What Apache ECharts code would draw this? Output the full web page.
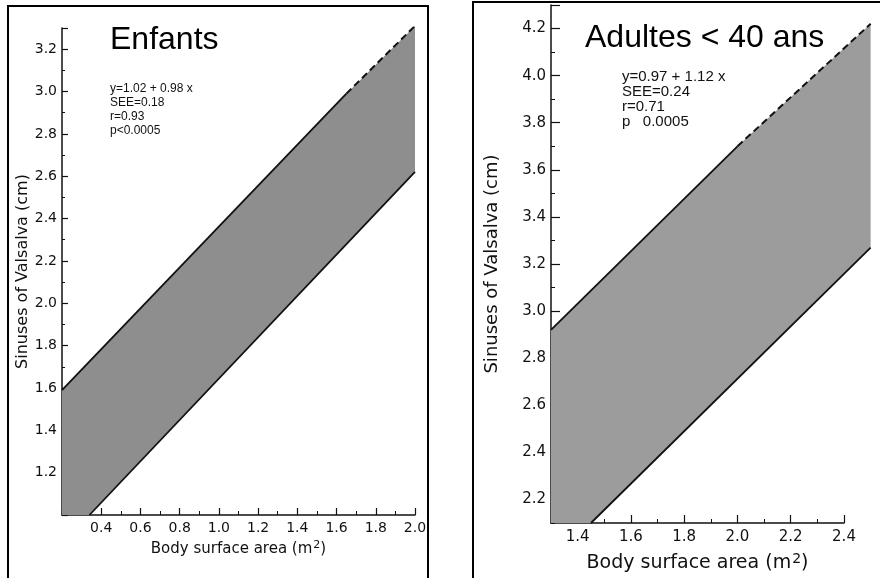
<!DOCTYPE html>
<html>
<head>
<meta charset="utf-8">
<script src="https://cdn.jsdelivr.net/npm/echarts@6/dist/echarts.min.js"></script>
<style>
  html, body { margin: 0; padding: 0; background: #fff; }
  #chart { width: 880px; height: 578px; }
</style>
</head>
<body>
<div id="chart"></div>
<script>
// Enfants panel
const enfUpper = [[0.2, 1.59], [1.65, 2.99]]
const enfUpperDash = [[1.65, 2.99], [2.0, 3.31]]
const enfLower = [[0.34, 1.0], [2.0, 2.62]]
const enfBand = [[0.2, 1.0], [0.34, 1.0], [2.0, 2.62], [2.0, 3.31], [1.65, 2.99], [0.2, 1.59]]
const enfStats = ['y=1.02 + 0.98 x', 'SEE=0.18', 'r=0.93', 'p<0.0005']

// Adultes < 40 ans panel
const adUpper = [[1.3, 2.92], [2.0, 3.70]]
const adUpperDash = [[2.0, 3.70], [2.5, 4.22]]
const adLower = [[1.45, 2.1], [2.5, 3.27]]
const adBand = [[1.3, 2.1], [1.45, 2.1], [2.5, 3.27], [2.5, 4.22], [2.0, 3.70], [1.3, 2.92]]
const adStats = ['y=0.97 + 1.12 x', 'SEE=0.24', 'r=0.71', 'p   0.0005']

// tick labels
const adXTicks = [1.4, 1.6, 1.8, 2.0, 2.2, 2.4]
const adYTicks = [2.2, 2.4, 2.6, 2.8, 3.0, 3.2, 3.4, 3.6, 3.8, 4.0, 4.2]

const FONT = 'DejaVu Sans'

const axisLine = { show: true, lineStyle: { color: '#111', width: 1.5 } }
const fmt = (v) => Number(v).toFixed(1)

// the shaded band (polygon) - custom series so it can run past the axis end
function bandSeries(band, fill, xi, yi) {
  return {
    type: 'custom',
    xAxisIndex: xi,
    yAxisIndex: yi,
    silent: true,
    clip: false,
    data: band,
    encode: { x: 0, y: 1 },
    renderItem: (params, api) => {
      if (params.dataIndex !== 0) return null
      return {
        type: 'polygon',
        shape: { points: band.map((p) => api.coord(p)) },
        style: { fill, stroke: null },
      }
    },
  }
}

// band edge line, solid or dashed
function edgeSeries(pts, xi, yi, dashed) {
  return {
    type: 'custom',
    xAxisIndex: xi,
    yAxisIndex: yi,
    silent: true,
    clip: false,
    z: 5,
    data: pts,
    encode: { x: 0, y: 1 },
    renderItem: (params, api) => {
      if (params.dataIndex !== 0) return null
      return {
        type: 'polyline',
        shape: { points: pts.map((p) => api.coord(p)) },
        style: { stroke: '#111', lineWidth: dashed ? 2 : 1.8, fill: null, lineDash: dashed ? [7, 4] : null },
      }
    },
  }
}

const chart = echarts.init(document.getElementById('chart'))

const option = {
  backgroundColor: '#fff',
  animation: false,
  grid: [
    { left: 62, right: 465, top: 28, bottom: 63 },
    { left: 551, right: 36, top: 5, bottom: 50 },
  ],
  xAxis: [
    {
      type: 'value', gridIndex: 0, position: 'bottom', min: 0.2, max: 2.0, interval: 0.2,
      axisLine,
      axisTick: { inside: true, length: 7, lineStyle: { color: '#111', width: 1.2 } },
      minorTick: { show: true, splitNumber: 2, length: 4, lineStyle: { color: '#111' } },
      splitLine: { show: false },
      axisLabel: { showMinLabel: false, formatter: fmt, color: '#111', fontFamily: FONT, fontSize: 14, margin: 6 },
      name: 'Body surface area (m{sup|2})',
      nameLocation: 'middle',
      nameGap: 25,
      nameTextStyle: {
        color: '#111', fontFamily: FONT, fontSize: 15,
        rich: { sup: { fontFamily: FONT, fontSize: 11, color: '#111', verticalAlign: 'top', padding: [0, 0, 8, 1] } },
      },
    },
    {
      type: 'value', gridIndex: 1, position: 'bottom', min: 1.3, max: 2.4, interval: 0.1,
      axisLine,
      axisTick: { inside: true, length: 8, customValues: adXTicks, lineStyle: { color: '#111', width: 1.2 } },
      splitLine: { show: false },
      axisLabel: { customValues: adXTicks, formatter: fmt, color: '#111', fontFamily: FONT, fontSize: 15, margin: 7 },
      name: 'Body surface area (m{sup|2})',
      nameLocation: 'middle',
      nameGap: 29,
      nameTextStyle: {
        color: '#111', fontFamily: FONT, fontSize: 19,
        rich: { sup: { fontFamily: FONT, fontSize: 14, color: '#111', verticalAlign: 'top', padding: [0, 0, 9, 1] } },
      },
    },
    {
      // minor ticks for the adult x axis
      type: 'value', gridIndex: 1, position: 'bottom', min: 1.3, max: 2.4, interval: 0.1,
      axisLine: { show: false },
      axisTick: { inside: true, length: 4, lineStyle: { color: '#111' } },
      splitLine: { show: false },
      axisLabel: { show: false },
    },
  ],
  yAxis: [
    {
      type: 'value', gridIndex: 0, position: 'left', min: 1.0, max: 3.3, interval: 0.2,
      axisLine,
      axisTick: { inside: true, length: 6, lineStyle: { color: '#111', width: 1.2 } },
      minorTick: { show: true, splitNumber: 2, length: 3, lineStyle: { color: '#111' } },
      splitLine: { show: false },
      axisLabel: { showMinLabel: false, showMaxLabel: false, formatter: fmt, color: '#111', fontFamily: FONT, fontSize: 14, margin: 5 },
      name: 'Sinuses of Valsalva (cm)',
      nameLocation: 'middle',
      nameGap: 31,
      nameTextStyle: { color: '#111', fontFamily: FONT, fontSize: 16 },
    },
    {
      type: 'value', gridIndex: 1, position: 'left', min: 2.1, max: 4.3, interval: 0.1,
      axisLine,
      axisTick: { inside: true, length: 9, customValues: adYTicks.concat([4.3]), lineStyle: { color: '#111', width: 1.2 } },
      splitLine: { show: false },
      axisLabel: { customValues: adYTicks, formatter: fmt, color: '#111', fontFamily: FONT, fontSize: 15, margin: 5 },
      name: 'Sinuses of Valsalva (cm)',
      nameLocation: 'middle',
      nameGap: 50,
      nameTextStyle: { color: '#111', fontFamily: FONT, fontSize: 18 },
    },
    {
      // minor ticks for the adult y axis
      type: 'value', gridIndex: 1, position: 'left', min: 2.1, max: 4.3, interval: 0.1,
      axisLine: { show: false },
      axisTick: { inside: true, length: 4, lineStyle: { color: '#111' } },
      splitLine: { show: false },
      axisLabel: { show: false },
    },
  ],
  graphic: [
    { type: 'rect', shape: { x: 8, y: 6, width: 420, height: 620 }, style: { fill: 'none', stroke: '#000', lineWidth: 2 }, silent: true },
    { type: 'rect', shape: { x: 473, y: 2, width: 440, height: 620 }, style: { fill: 'none', stroke: '#000', lineWidth: 2 }, silent: true },
    { type: 'text', left: 110, top: 24, style: { text: 'Enfants', font: '32px "Liberation Sans", Arial, sans-serif', fill: '#000' } },
    { type: 'text', left: 585, top: 22, style: { text: 'Adultes < 40 ans', font: '32px "Liberation Sans", Arial, sans-serif', fill: '#000' } },
    { type: 'text', left: 110, top: 82, style: { text: enfStats.join('\n'), font: '12px "Liberation Sans", Arial, sans-serif', lineHeight: 14, fill: '#111' } },
    { type: 'text', left: 622, top: 69, style: { text: adStats.join('\n'), font: '15px "Liberation Sans", Arial, sans-serif', lineHeight: 15, fill: '#111' } },
  ],
  series: [
    bandSeries(enfBand, '#8e8e8e', 0, 0),
    edgeSeries(enfUpper, 0, 0, false),
    edgeSeries(enfUpperDash, 0, 0, true),
    edgeSeries(enfLower, 0, 0, false),
    bandSeries(adBand, '#9c9c9c', 1, 1),
    edgeSeries(adUpper, 1, 1, false),
    edgeSeries(adUpperDash, 1, 1, true),
    edgeSeries(adLower, 1, 1, false),
  ],
}

chart.setOption(option)
</script>
</body>
</html>
